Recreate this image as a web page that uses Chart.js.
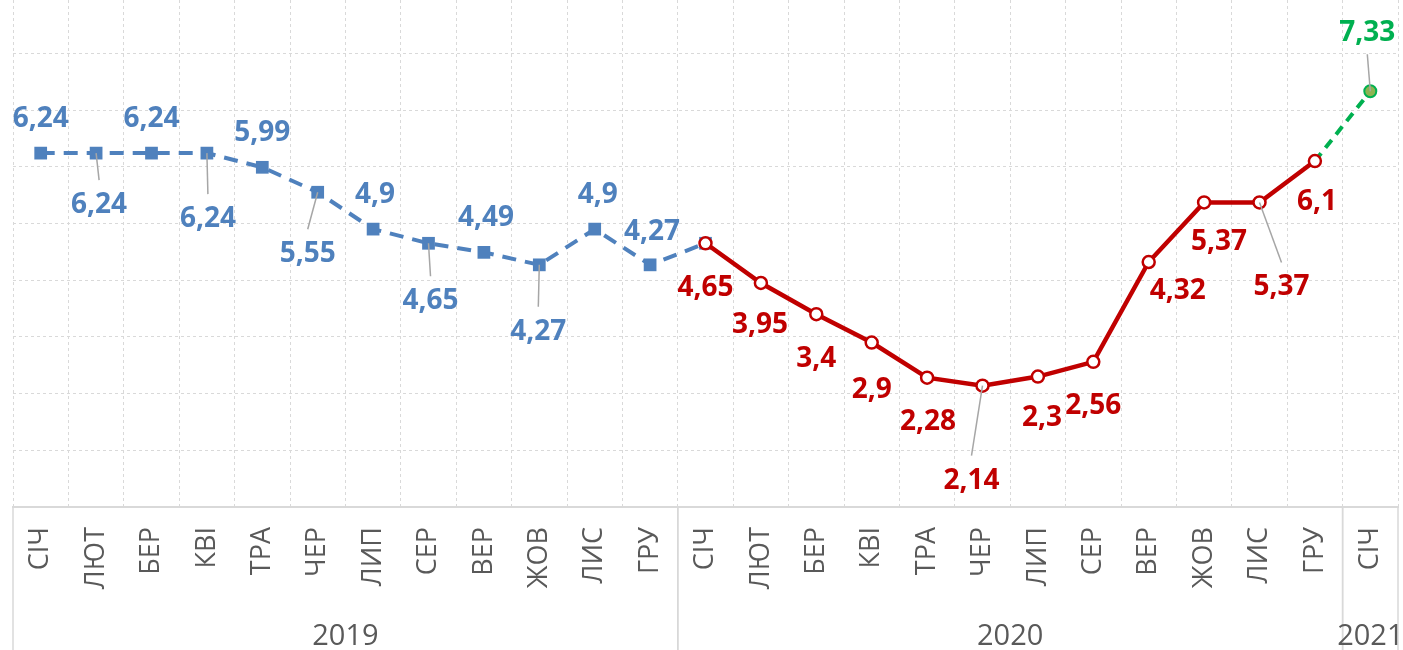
<!DOCTYPE html>
<html>
<head>
<meta charset="utf-8">
<script src="https://cdn.jsdelivr.net/npm/chart.js@4.4.1/dist/chart.umd.min.js"></script>
<style>
  html, body { margin: 0; padding: 0; background: #fff; }
  #wrap { width: 1403px; height: 650px; position: relative; }
</style>
</head>
<body>
<div id="wrap"><canvas id="rateChart"></canvas></div>
<script>
// місяці по осі X
const months = ['СІЧ', 'ЛЮТ', 'БЕР', 'КВІ', 'ТРА', 'ЧЕР', 'ЛИП', 'СЕР', 'ВЕР', 'ЖОВ', 'ЛИС', 'ГРУ',
                'СІЧ', 'ЛЮТ', 'БЕР', 'КВІ', 'ТРА', 'ЧЕР', 'ЛИП', 'СЕР', 'ВЕР', 'ЖОВ', 'ЛИС', 'ГРУ',
                'СІЧ'];
const years = ['2019', '2020', '2021'];
const yearMonths = [12, 12, 1];

const values2019 = [6.24, 6.24, 6.24, 6.24, 5.99, 5.55, 4.9, 4.65, 4.49, 4.27, 4.9, 4.27];
const values2020 = [4.65, 3.95, 3.4, 2.9, 2.28, 2.14, 2.3, 2.56, 4.32, 5.37, 5.37, 6.1];
const values2021 = [7.33];

const BLUE = '#4f81bd';
const RED = '#c00000';
const GREEN = '#00b050';
const GREY_TEXT = '#595959';
const GRID = '#d9d9d9';
const LABEL_FONT = 'bold 28px "Open Sans"';

// зсув підписів відносно точки: [dx, dy, лінія-виноска]
const place2019 = [[0, -36], [3, 50, true], [0, -36], [1, 64, true], [0, -36], [-10, 60, true],
                   [2, -36], [2, 56, true], [2, -36], [-1, 65, true], [3, -36], [2, -35]];
const place2020 = [[0, 43], [-1, 40], [0, 43], [0, 45], [1, 42], [-11, 93, true],
                   [4, 39], [0, 42], [29, 27], [15, 38], [22, 83, true], [2, 39]];
const place2021 = [[-3, -60, true]];

const n = months.length;
const pad = (k) => new Array(k).fill(null);

// 2019 тягнеться пунктиром до січня 2020, 2021 — від грудня 2020
const blueData = values2019.concat([values2020[0]], pad(n - 13));
const redData = pad(12).concat(values2020, pad(n - 24));
const greenData = pad(23).concat([values2020[11]], values2021);

const fmt = v => String(v).replace('.', ',');

const labelPlugin = {
  id: 'pointLabels',
  afterDatasetsDraw(chart) {
    const ctx = chart.ctx;
    chart.data.datasets.forEach((ds, di) => {
      const meta = chart.getDatasetMeta(di);
      ds.places.forEach((p, k) => {
        const idx = ds.ownFrom + k;
        const pt = meta.data[idx];
        if (!pt) return;
        const [dx, dy, leader] = p;
        const lx = pt.x + dx, ly = pt.y + dy;
        ctx.save();
        if (leader) {
          ctx.strokeStyle = '#a6a6a6';
          ctx.lineWidth = 1.5;
          ctx.beginPath();
          ctx.moveTo(pt.x, pt.y);
          ctx.lineTo(lx, ly - Math.sign(dy) * 23);
          ctx.stroke();
        }
        ctx.font = LABEL_FONT;
        ctx.fillStyle = ds.labelColor;
        ctx.textAlign = 'center';
        ctx.textBaseline = 'alphabetic';
        ctx.fillText(fmt(ds.data[idx]), lx, ly + 10);
        ctx.restore();
      });
    });
  }
};

const yearPlugin = {
  id: 'yearAxis',
  afterDraw(chart) {
    const ctx = chart.ctx;
    const xs = chart.scales.x;
    const area = chart.chartArea;
    const edge = i => {
      if (i <= 0) return area.left;
      if (i >= n) return area.right;
      return (xs.getPixelForValue(i - 1) + xs.getPixelForValue(i)) / 2;
    };
    ctx.save();
    ctx.strokeStyle = GRID;
    ctx.lineWidth = 1.5;
    ctx.font = '29px "Open Sans"';
    ctx.fillStyle = GREY_TEXT;
    ctx.textAlign = 'center';
    let start = 0;
    yearMonths.forEach((cnt, j) => {
      const a = edge(start), b = edge(start + cnt);
      [a, b].forEach(x => {
        ctx.beginPath();
        ctx.moveTo(x, area.bottom);
        ctx.lineTo(x, chart.height);
        ctx.stroke();
      });
      ctx.fillText(years[j], (a + b) / 2, 645);
      start += cnt;
    });
    ctx.restore();
  }
};

const noPad = s => { s.paddingLeft = 0; s.paddingRight = 0; s.paddingTop = 0; s.paddingBottom = 0; };

const ctx = document.getElementById('rateChart').getContext('2d');
new Chart(ctx, {
  type: 'line',
  data: {
    labels: months,
    datasets: [
      {
        label: '2020',
        data: redData,
        borderColor: RED,
        borderWidth: 4.5,
        pointStyle: 'circle',
        pointRadius: 6,
        pointBorderWidth: 2.5,
        pointBackgroundColor: '#ffffff',
        pointBorderColor: RED,
        order: 1,
        labelColor: RED,
        ownFrom: 12,
        places: place2020
      },
      {
        label: '2021',
        data: greenData,
        borderColor: GREEN,
        borderWidth: 4,
        borderDash: [10, 7],
        pointStyle: 'circle',
        pointRadius: greenData.map((v, i) => i === n - 1 ? 6 : 0),
        pointBorderWidth: 2,
        pointBackgroundColor: '#8db352',
        pointBorderColor: GREEN,
        order: 2,
        labelColor: GREEN,
        ownFrom: 24,
        places: place2021
      },
      {
        label: '2019',
        data: blueData,
        borderColor: BLUE,
        borderWidth: 4,
        borderDash: [14, 9],
        pointStyle: 'rect',
        pointRadius: 9,
        pointBorderWidth: 0,
        pointBackgroundColor: BLUE,
        pointBorderColor: BLUE,
        order: 3,
        labelColor: BLUE,
        ownFrom: 0,
        places: place2019
      }
    ]
  },
  options: {
    responsive: true,
    maintainAspectRatio: false,
    animation: false,
    spanGaps: false,
    layout: { autoPadding: false, padding: { left: 13, right: 5, top: 0, bottom: 0 } },
    plugins: {
      legend: { display: false },
      tooltip: { enabled: false }
    },
    scales: {
      x: {
        offset: true,
        afterFit: s => { s.height = 143; noPad(s); },
        grid: { offset: true, color: GRID, lineWidth: 1, drawTicks: false },
        border: { display: true, color: GRID, width: 2, dash: [3, 3] },
        ticks: {
          autoSkip: false,
          minRotation: 90,
          maxRotation: 90,
          padding: 20,
          color: GREY_TEXT,
          font: { family: 'Open Sans', size: 27 }
        }
      },
      y: {
        min: 0,
        max: 8.94,
        afterFit: s => { s.width = 0; noPad(s); },
        ticks: { display: false, stepSize: 1 },
        grid: {
          drawTicks: false,
          color: c => (c.tick && Number.isInteger(c.tick.value)) ? GRID : 'transparent'
        },
        border: { display: false, dash: [3, 3] }
      }
    }
  },
  plugins: [labelPlugin, yearPlugin]
});
</script>
</body>
</html>
